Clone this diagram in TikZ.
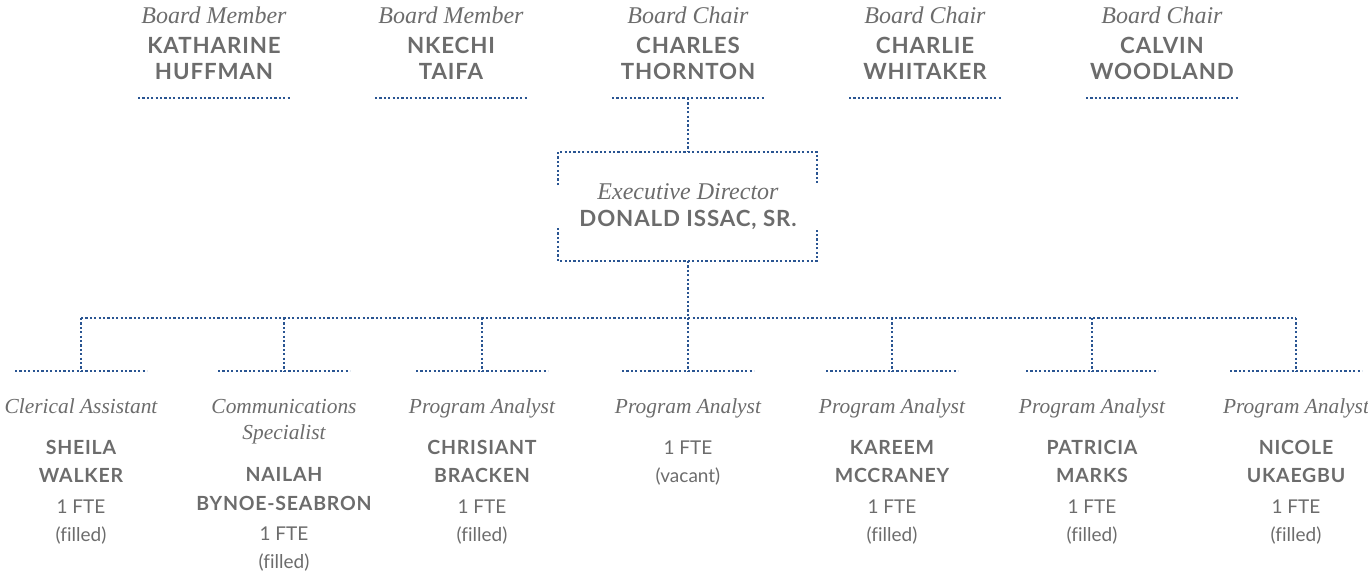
\documentclass[tikz,border=0pt]{standalone}
\usepackage{fontspec}
\setmainfont{Liberation Serif}
\newfontfamily\namefont{Lato}[LetterSpace=4]
\newfontfamily\infofont{Lato}[Ligatures=NoCommon]
\newfontfamily\rolefont{Liberation Serif}
\definecolor{txtgray}{HTML}{6C6C6C}
\definecolor{lineblue}{HTML}{2A5592}
\tikzset{
  dotline/.style={draw=lineblue, line width=2.2pt, dash pattern=on 2.2pt off 2.2pt},
  role/.style={anchor=base, inner sep=0pt, text=txtgray, font=\rolefont\itshape\fontsize{21.4}{21.4}\selectfont},
  bigrole/.style={role, font=\rolefont\itshape\fontsize{24}{24}\selectfont},
  pname/.style={anchor=base, inner sep=0pt, text=txtgray, font=\namefont\bfseries\fontsize{19.5}{19.5}\selectfont},
  bigname/.style={pname, font=\namefont\bfseries\fontsize{22.3}{22.3}\selectfont},
  info/.style={anchor=base, inner sep=0pt, text=txtgray, font=\infofont\fontsize{19}{19}\selectfont},
}
\begin{document}
\begin{tikzpicture}[x=1pt,y=-1pt]
\useasboundingbox (0,0) rectangle (1368,573);
% ---------- board ----------
\foreach \id/\x/\r/\a/\b in {b1/214/Board Member/KATHARINE/HUFFMAN,
                            b2/451/Board Member/NKECHI/TAIFA,
                            b3/688/Board Chair/CHARLES/THORNTON,
                            b4/925/Board Chair/CHARLIE/WHITAKER,
                            b5/1162/Board Chair/CALVIN/WOODLAND}{
  \node[bigrole] (\id r) at (\x,23) {\r};
  \node[bigname] (\id a) at (\x,53) {\a};
  \node[bigname] (\id b) at (\x,79.5) {\b};
  \coordinate (\id L) at (\x-76,98);
  \coordinate (\id R) at (\x+76,98);
  \coordinate (\id c) at (\x,98);
  \draw[dotline] (\id L) -- (\id R);
}
% ---------- executive director ----------
\coordinate (eTL) at (558,152);
\coordinate (eTR) at (817,152);
\coordinate (eBL) at (558,261);
\coordinate (eBR) at (817,261);
\coordinate (eT) at (688,152);
\coordinate (eB) at (688,261);
\node[bigrole] (edr) at (688,199) {Executive Director};
\node[bigname] (edn) at (688,226) {DONALD ISSAC, SR.};
\draw[dotline] (558,185) -- (eTL) -- (eTR) -- (817,185);
\draw[dotline] (558,228) -- (eBL) -- (eBR) -- (817,228);
\draw[dotline] (b3c) -- (eT);
% ---------- staff ----------
\coordinate (busL) at (81,318);
\coordinate (busR) at (1296,318);
\draw[dotline] (busL) -- (busR);
\foreach \id/\x in {s1/81,s2/284,s3/482,s4/688,s5/892,s6/1092,s7/1296}{
  \coordinate (\id t) at (\x,318);
  \coordinate (\id c) at (\x,371);
  \coordinate (\id L) at (\x-66,371);
  \coordinate (\id R) at (\x+66,371);
  \draw[dotline] (\id L) -- (\id R);
  \draw[dotline] (\id t) -- (\id c);
}
\draw[dotline] (eB) -- (s4t);
% roles
\node[role] (s1r) at (81,413) {Clerical Assistant};
\node[role] (s2r) at (284,413) {Communications};
\node[role] (s2r2) at (284,439) {Specialist};
\node[role] (s3r) at (482,413) {Program Analyst};
\node[role] (s4r) at (688,413) {Program Analyst};
\node[role] (s5r) at (892,413) {Program Analyst};
\node[role] (s6r) at (1092,413) {Program Analyst};
\node[role] (s7r) at (1296,413) {Program Analyst};
% names
\node[pname] (s1a) at (81,454) {SHEILA};
\node[pname] (s1b) at (81,482) {WALKER};
\node[info] (s1f) at (81,513) {1 FTE};
\node[info] (s1s) at (81,541) {(filled)};
\node[pname] (s2a) at (284,481) {NAILAH};
\node[pname] (s2b) at (284,510) {BYNOE-SEABRON};
\node[info] (s2f) at (284,540) {1 FTE};
\node[info] (s2s) at (284,568) {(filled)};
\node[pname] (s3a) at (482,454) {CHRISIANT};
\node[pname] (s3b) at (482,482) {BRACKEN};
\node[info] (s3f) at (482,513) {1 FTE};
\node[info] (s3s) at (482,541) {(filled)};
\node[info] (s4f) at (688,454) {1 FTE};
\node[info] (s4s) at (688,482) {(vacant)};
\node[pname] (s5a) at (892,454) {KAREEM};
\node[pname] (s5b) at (892,482) {MCCRANEY};
\node[info] (s5f) at (892,513) {1 FTE};
\node[info] (s5s) at (892,541) {(filled)};
\node[pname] (s6a) at (1092,454) {PATRICIA};
\node[pname] (s6b) at (1092,482) {MARKS};
\node[info] (s6f) at (1092,513) {1 FTE};
\node[info] (s6s) at (1092,541) {(filled)};
\node[pname] (s7a) at (1296,454) {NICOLE};
\node[pname] (s7b) at (1296,482) {UKAEGBU};
\node[info] (s7f) at (1296,513) {1 FTE};
\node[info] (s7s) at (1296,541) {(filled)};
\end{tikzpicture}
\end{document}
